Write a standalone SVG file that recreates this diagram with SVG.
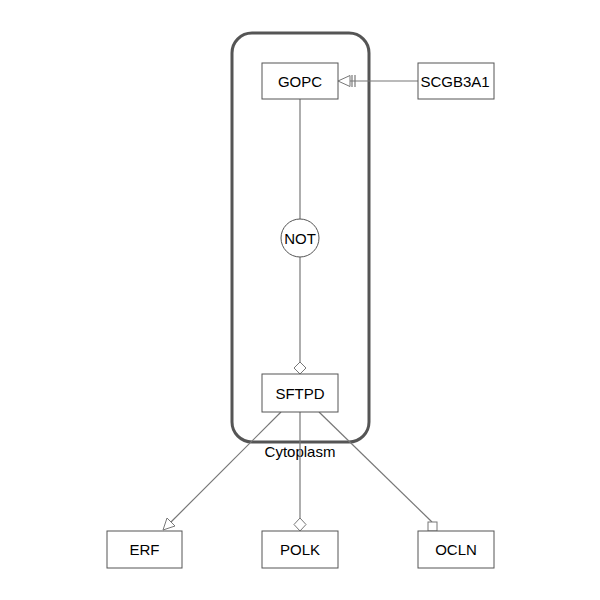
<svg xmlns="http://www.w3.org/2000/svg" width="600" height="600" viewBox="0 0 600 600">
<style>
.node rect{fill:#fff;stroke:#555;stroke-width:1}
.lbl{font-family:"Liberation Sans",Arial,sans-serif;font-size:15px;fill:#000;text-anchor:middle;dominant-baseline:central}
.edge{stroke:#777;stroke-width:1.2;fill:none}
.head{fill:#fff;stroke:#777;stroke-width:1}
</style>
<rect width="600" height="600" fill="#fff"/>
<g id="compartment-cytoplasm">
<rect x="232" y="33" width="137" height="409" rx="20" ry="20" fill="none" stroke="#555" stroke-width="3"/>
<text class="lbl" x="300" y="451">Cytoplasm</text>
</g>
<g id="connectors">
<line class="edge" x1="418" y1="81" x2="350" y2="81"/>
<polygon class="head" points="338,81 350,75.5 350,86.5"/>
<line x1="352" y1="75" x2="352" y2="87" stroke="#777" stroke-width="1.2"/>
<line x1="355" y1="75" x2="355" y2="87" stroke="#777" stroke-width="1.2"/>
<line class="edge" x1="300" y1="99" x2="300" y2="219"/>
<line class="edge" x1="300" y1="257" x2="300" y2="362"/>
<polygon class="head" points="300,362 306,368 300,374 294,368"/>
<line class="edge" x1="281" y1="412" x2="171" y2="522"/>
<polygon class="head" points="163,530 167,518 175,526"/>
<line class="edge" x1="300" y1="412" x2="300" y2="518"/>
<polygon class="head" points="300,518 306,524.5 300,531 294,524.5"/>
<line class="edge" x1="319" y1="412" x2="432" y2="522"/>
<rect class="head" x="428" y="522" width="9" height="9"/>
</g>
<g id="node-GOPC" class="node"><rect x="262" y="63" width="76" height="36"/><text class="lbl" x="300" y="81">GOPC</text></g>
<g id="node-SCGB3A1" class="node"><rect x="418" y="63" width="76" height="36"/><text class="lbl" x="455" y="81">SCGB3A1</text></g>
<g id="node-NOT"><circle cx="300" cy="238" r="19" fill="#fff" stroke="#555" stroke-width="1"/><text class="lbl" x="300" y="238">NOT</text></g>
<g id="node-SFTPD" class="node"><rect x="262" y="374" width="76" height="38"/><text class="lbl" x="300" y="393">SFTPD</text></g>
<g id="node-ERF" class="node"><rect x="107" y="531" width="75" height="37"/><text class="lbl" x="144.5" y="549.5">ERF</text></g>
<g id="node-POLK" class="node"><rect x="262" y="531" width="76" height="37"/><text class="lbl" x="300" y="549.5">POLK</text></g>
<g id="node-OCLN" class="node"><rect x="418" y="531" width="76" height="37"/><text class="lbl" x="456" y="549.5">OCLN</text></g>
</svg>
